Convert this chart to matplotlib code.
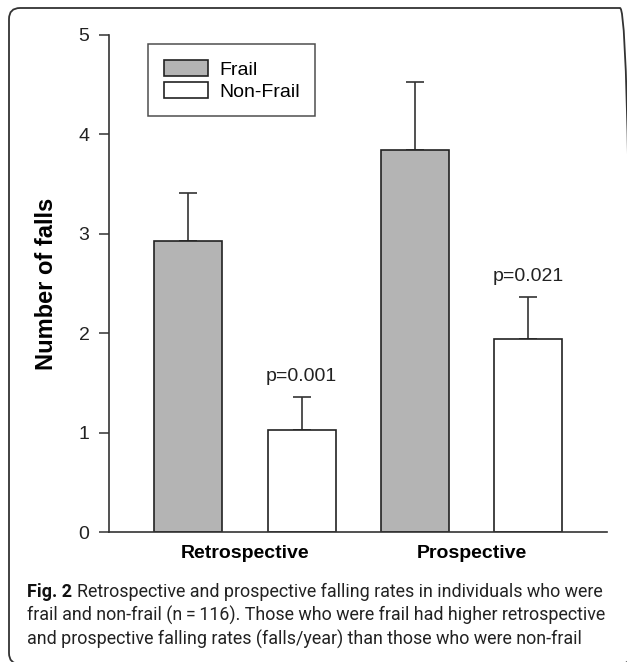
import matplotlib
matplotlib.use('Agg')
import matplotlib.pyplot as plt
import numpy as np
from matplotlib.patches import FancyBboxPatch
from matplotlib.transforms import IdentityTransform

# data (falls/year)
groups = ['Retrospective', 'Prospective']
frail_mean = [2.93, 3.84]
frail_err = [0.48, 0.69]
nonfrail_mean = [1.03, 1.94]
nonfrail_err = [0.33, 0.42]
p_labels = ['p=0.001', 'p=0.021']
series_names = ['Frail', 'Non-Frail']
yticks = [0, 1, 2, 3, 4, 5]

caption_lines = [
    'Retrospective and prospective falling rates in individuals who were',
    'frail and non-frail (n\u2009=\u2009116). Those who were frail had higher retrospective',
    'and prospective falling rates (falls/year) than those who were non-frail',
]

plt.rcParams['font.family'] = ['Liberation Sans', 'DejaVu Sans']

fig = plt.figure(figsize=(6.27, 6.62), dpi=100)
ax = fig.add_axes([0.1738, 0.1959, 0.7949, 0.7515])

x = np.arange(len(groups))
width = 0.30
off = 0.25
edge = '#222222'

ax.bar(x - off, frail_mean, width, color='#b4b4b4', edgecolor=edge,
       linewidth=1.2, label=series_names[0], zorder=2)
ax.bar(x + off, nonfrail_mean, width, color='white', edgecolor=edge,
       linewidth=1.2, label=series_names[1], zorder=2)

# only the upper half of the error bars is drawn
ax.errorbar(x - off, frail_mean, yerr=[np.zeros(2), frail_err], fmt='none',
            ecolor='#333333', elinewidth=1.2, capsize=6.5, capthick=1.2, zorder=1)
ax.errorbar(x + off, nonfrail_mean, yerr=[np.zeros(2), nonfrail_err], fmt='none',
            ecolor='#333333', elinewidth=1.2, capsize=6.5, capthick=1.2, zorder=1)

for i in range(len(groups)):
    ax.text(x[i] + off, nonfrail_mean[i] + nonfrail_err[i] + 0.21, p_labels[i],
            ha='center', va='center', fontsize=14, color='#222222')

ax.set_xlim(-0.6, 1.6)
ax.set_ylim(0, 5)
ax.set_yticks(yticks)
ax.set_xticks(x)
ax.set_xticklabels(groups, fontsize=14, fontweight='bold')
ax.tick_params(axis='x', length=0, pad=9)
ax.tick_params(axis='y', length=7, width=1.1, pad=7, labelsize=14, colors='#333333')
ax.tick_params(axis='y', labelcolor='#222222')

for s in ['top', 'right']:
    ax.spines[s].set_visible(False)
for s in ['left', 'bottom']:
    ax.spines[s].set_color('#333333')
    ax.spines[s].set_linewidth(1.2)

ax.set_ylabel('Number of falls', fontsize=17, fontweight='bold')
ax.yaxis.label.set_verticalalignment('center')
ax.yaxis.set_label_coords(-0.126, 0.5)

leg = ax.legend(loc='upper left', bbox_to_anchor=(0.0782, 0.9815), borderaxespad=0,
                fontsize=14, fancybox=False, frameon=True, handlelength=2.27,
                handleheight=0.95, handletextpad=0.6, labelspacing=0.15,
                borderpad=0.8)
leg.get_frame().set_edgecolor('#222222')
leg.get_frame().set_linewidth(1.1)

# caption with a bold "Fig. 2" prefix
cap_font = ['Roboto', 'DejaVu Sans']
cap_size = 13
x0 = 26.7 / 627
ys = [1 - 596.7 / 662, 1 - 620.7 / 662, 1 - 645.0 / 662]

# shrink the caption font until the longest line fits the frame
probe = fig.text(x0, ys[1], caption_lines[1], fontsize=cap_size, family=cap_font)
fig.canvas.draw()
w = probe.get_window_extent().width
probe.remove()
if w > 580:
    cap_size = cap_size * 580 / w

t0 = fig.text(x0, ys[0], 'Fig. 2', fontsize=cap_size, fontweight='bold',
              family=cap_font, va='baseline', color='#111111')
fig.canvas.draw()
bb = t0.get_window_extent()
x1 = (bb.x1 + 5) / fig.bbox.width
fig.text(x1, ys[0], caption_lines[0], fontsize=cap_size, family=cap_font,
         va='baseline', color='#222222')
for line, yy in zip(caption_lines[1:], ys[1:]):
    fig.text(x0, yy, line, fontsize=cap_size, family=cap_font,
             va='baseline', color='#222222')

# rounded frame around figure and caption
frame = FancyBboxPatch((9, -2), 622, 656, boxstyle='round,pad=0,rounding_size=11',
                       transform=IdentityTransform(), fill=False,
                       edgecolor='#333333', linewidth=1.3)
fig.patches.append(frame)

fig.savefig('out.png', dpi=100)
